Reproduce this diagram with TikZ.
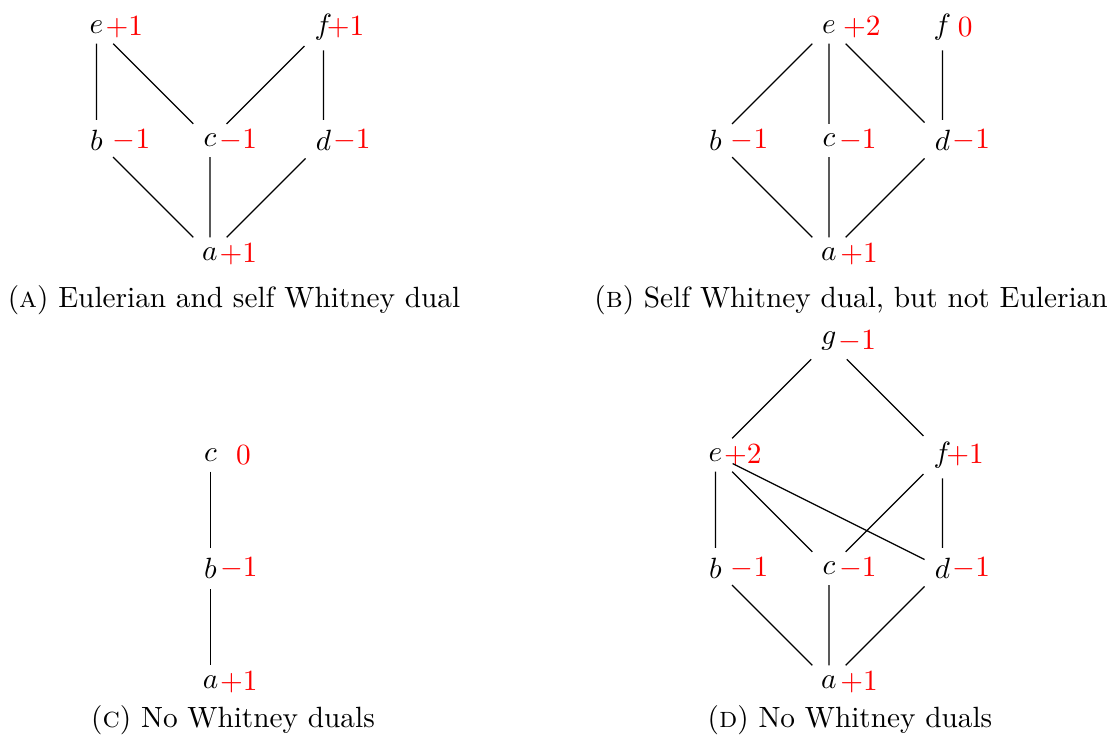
\documentclass[tikz,border=0pt]{standalone}
\usepackage{amsmath,amssymb}
\usepackage{tikz}
\usetikzlibrary{calc}
\tikzset{vtx/.style={inner sep=3.33pt},num/.style={text=red,inner sep=1pt},subcap/.style={anchor=base,inner sep=0pt}}

\begin{document}
\begin{tikzpicture}[x=1.3615cm,y=1.3615cm]
\useasboundingbox (0,0) rectangle (9.789,-6.485);
% (A)
\begin{scope}[shift={(1.85,-2.238)}]
\node[vtx] (Aa) at (0,0) {$a$};
\node[vtx] (Ab) at (-1,1) {$b$};
\node[vtx] (Ac) at (0,1) {$c$};
\node[vtx] (Ad) at (1,1) {$d$};
\node[vtx] (Ae) at (-1,2) {$e$};
\node[vtx] (Af) at (1,2) {$f$};
\node[num] at ($(Aa)+(0.25,0)$) {$+1$};
\node[num] at ($(Ab)+(0.31,0)$) {$-1$};
\node[num] at ($(Ac)+(0.25,0)$) {$-1$};
\node[num] at ($(Ad)+(0.25,0)$) {$-1$};
\node[num] at ($(Ae)+(0.245,0)$) {$+1$};
\node[num] at ($(Af)+(0.195,0)$) {$+1$};
\draw (Ae) -- (Ab) (Ae) -- (Ac) (Af) -- (Ac) (Af) -- (Ad) (Ab) -- (Aa) (Ac) -- (Aa) (Ad) -- (Aa);
\end{scope}
% (B)
\begin{scope}[shift={(7.304,-2.238)}]
\node[vtx] (Ba) at (0,0) {$a$};
\node[vtx] (Bb) at (-1,1) {$b$};
\node[vtx] (Bc) at (0,1) {$c$};
\node[vtx] (Bd) at (1,1) {$d$};
\node[vtx] (Be) at (0,2) {$e$};
\node[vtx] (Bf) at (1,2) {$f$};
\node[num] at ($(Ba)+(0.265,0)$) {$+1$};
\node[num] at ($(Bb)+(0.3,0)$) {$-1$};
\node[num] at ($(Bc)+(0.255,0)$) {$-1$};
\node[num] at ($(Bd)+(0.255,0)$) {$-1$};
\node[num] at ($(Be)+(0.29,0)$) {$+2$};
\node[num] at ($(Bf)+(0.2,0)$) {$0$};
\draw (Be) -- (Bb) (Be) -- (Bc) (Be) -- (Bd) (Bf) -- (Bd) (Bb) -- (Ba) (Bc) -- (Ba) (Bd) -- (Ba);
\end{scope}
% (C)
\begin{scope}[shift={(1.855,-6.009)}]
\node[vtx] (Ca) at (0,0) {$a$};
\node[vtx] (Cb) at (0,1) {$b$};
\node[vtx] (Cc) at (0,2) {$c$};
\node[num] at ($(Ca)+(0.25,0)$) {$+1$};
\node[num] at ($(Cb)+(0.25,0)$) {$-1$};
\node[num] at ($(Cc)+(0.29,0)$) {$0$};
\draw (Cc) -- (Cb) (Cb) -- (Ca);
\end{scope}
% (D)
\begin{scope}[shift={(7.304,-6.009)}]
\node[vtx] (Da) at (0,0) {$a$};
\node[vtx] (Db) at (-1,1) {$b$};
\node[vtx] (Dc) at (0,1) {$c$};
\node[vtx] (Dd) at (1,1) {$d$};
\node[vtx] (De) at (-1,2) {$e$};
\node[vtx] (Df) at (1,2) {$f$};
\node[vtx] (Dg) at (0,3) {$g$};
\node[num] at ($(Da)+(0.265,0)$) {$+1$};
\node[num] at ($(Db)+(0.3,0)$) {$-1$};
\node[num] at ($(Dc)+(0.255,0)$) {$-1$};
\node[num] at ($(Dd)+(0.255,0)$) {$-1$};
\node[num] at ($(De)+(0.24,0)$) {$+2$};
\node[num] at ($(Df)+(0.2,0)$) {$+1$};
\node[num] at ($(Dg)+(0.25,0)$) {$-1$};
\draw (Dg) -- (De) (Dg) -- (Df) (De) -- (Db) (De) -- (Dc) (De) -- (Dd) (Df) -- (Dc) (Df) -- (Dd) (Db) -- (Da) (Dc) -- (Da) (Dd) -- (Da);
\end{scope}
% captions
\node[subcap] (capA) at (2.062,-2.705) {(\textsc{a}) Eulerian and self Whitney dual};
\node[subcap] (capB) at (7.498,-2.705) {(\textsc{b}) Self Whitney dual, but not Eulerian};
\node[subcap] (capC) at (2.053,-6.414) {(\textsc{c}) No Whitney duals};
\node[subcap] (capD) at (7.489,-6.414) {(\textsc{d}) No Whitney duals};
\end{tikzpicture}
\end{document}
